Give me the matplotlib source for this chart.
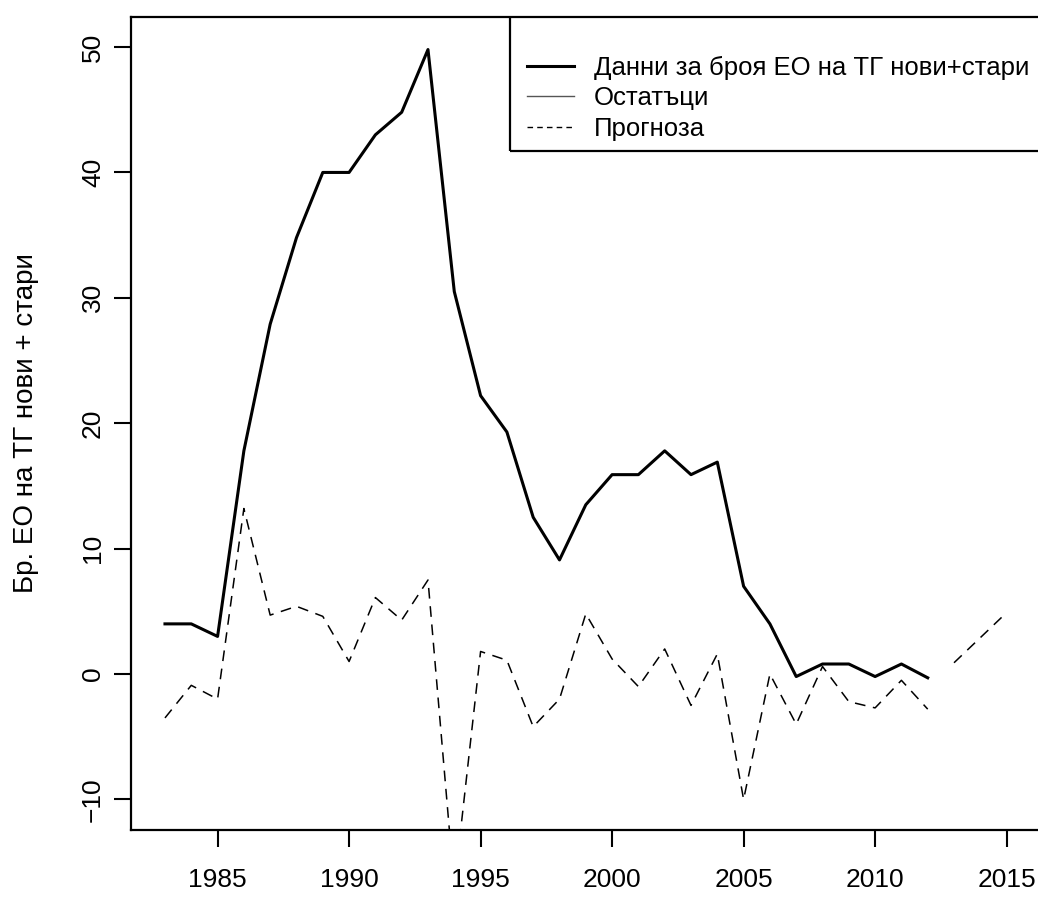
import matplotlib
matplotlib.use("Agg")
import matplotlib.pyplot as plt
from matplotlib.lines import Line2D
from matplotlib.patches import Rectangle

plt.rcParams['font.family'] = ['Liberation Sans', 'DejaVu Sans']

# Брой ЕО на ТГ (нови + стари) по години
years = list(range(1983, 2013))
counts = [4.0, 4.0, 3.0, 17.8, 27.9, 34.8, 40.0, 40.0, 43.0, 44.8,
          49.8, 30.5, 22.2, 19.3, 12.5, 9.1, 13.5, 15.9, 15.9, 17.8,
          15.9, 16.9, 7.0, 4.0, -0.2, 0.8, 0.8, -0.2, 0.8, -0.3]

# остатъци от модела
residuals = [-3.5, -0.9, -2.0, 13.2, 4.7, 5.4, 4.6, 1.0, 6.1, 4.3,
             7.5, -17.0, 1.8, 1.1, -4.2, -2.0, 4.8, 1.2, -1.0, 2.0,
             -2.5, 1.6, -10.0, 0.0, -4.0, 0.6, -2.2, -2.7, -0.5, -2.8]

# прогноза
fc_years = [2013, 2014, 2015]
forecast = [0.9, 2.9, 4.9]

xticks = [1985, 1990, 1995, 2000, 2005, 2010, 2015]
yticks = [-10, 0, 10, 20, 30, 40, 50]
legend_labels = ["Данни за броя ЕО на ТГ нови+стари", "Остатъци", "Прогноза"]

fig = plt.figure(figsize=(10.38, 9.06), dpi=100)
ax = fig.add_axes([0.1265, 0.0844, 0.8757, 0.8969])

ax.plot(years, counts, color='black', lw=2.2)
ax.plot(years, residuals, color='black', lw=1.1, dashes=(7, 5))
ax.plot(fc_years, forecast, color='black', lw=1.1, dashes=(7, 5))

ax.set_xlim(1981.72, 2016.28)
ax.set_ylim(-12.4, 52.4)
ax.set_xticks(xticks)
ax.set_yticks(yticks)
ax.tick_params(axis='both', length=12, width=1.5, labelsize=19)
ax.tick_params(axis='x', pad=16)
ax.tick_params(axis='y', pad=7)
for lbl in ax.get_yticklabels():
    lbl.set_rotation(90)
    lbl.set_va('center')
for s in ax.spines.values():
    s.set_linewidth(1.6)

ax.set_ylabel("Бр. ЕО на ТГ нови + стари", fontsize=20)
ax.yaxis.set_label_coords(-0.102, 0.5)

# рамка на легендата, закрепена в горния десен ъгъл
ax.add_patch(Rectangle((0.4166, 0.835), 0.7, 0.3, transform=ax.transAxes,
                       fill=False, edgecolor='black', lw=1.6, clip_on=True))
handles = [Line2D([], [], color='black', lw=2.2),
           Line2D([], [], color='#555555', lw=1.0),
           Line2D([], [], color='black', lw=1.0, dashes=(4, 3))]
ax.legend(handles, legend_labels, loc='upper left', bbox_to_anchor=(0.4356, 0.952),
          frameon=False, fontsize=18.5, handlelength=1.8, handletextpad=0.8,
          labelspacing=0.25, borderpad=0, borderaxespad=0)

fig.savefig("out.png", dpi=100)
